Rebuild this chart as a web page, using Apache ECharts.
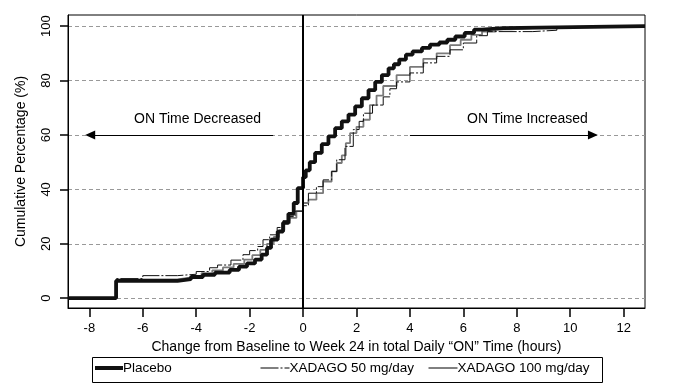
<!DOCTYPE html>
<html><head><meta charset="utf-8">
<script src="https://cdn.jsdelivr.net/npm/echarts@6/dist/echarts.min.js"></script>
<style>html,body{margin:0;padding:0;background:#fff}#c{width:694px;height:385px}</style>
</head><body><div id="c"></div>
<script>
const xTicks = [-8, -6, -4, -2, 0, 2, 4, 6, 8, 10, 12];
const yTicks = [0, 20, 40, 60, 80, 100];
const seriesNames = ['Placebo', 'XADAGO 50 mg/day', 'XADAGO 100 mg/day'];
// step CDF points: [change in ON time (h), cumulative %]
const placebo = [[-8.8,0],[-7,6.4],[-4.7,7.0],[-4.2,7.8],[-3.75,8.6],[-3.3,9.4],[-2.75,10.4],[-2.4,11.6],[-2.1,12.8],[-1.8,14.2],[-1.55,16],[-1.35,18.5],[-1.2,21.5],[-0.95,24.5],[-0.75,27.7],[-0.55,31],[-0.35,35],[-0.2,40.5],[0.0,44.5],[0.1,47],[0.25,50],[0.45,53.4],[0.7,56.6],[0.95,59.5],[1.2,62.5],[1.45,65],[1.7,67.5],[1.95,70.5],[2.2,73.5],[2.45,76.5],[2.7,79.5],[2.95,82],[3.2,84.5],[3.4,86],[3.6,87.7],[3.85,89.5],[4.1,90.7],[4.45,92],[4.75,93.2],[5.1,94],[5.4,95],[5.7,96.2],[6.05,97.5],[6.4,98.7],[6.7,99.3],[7.5,100],[12.8,100]];
const xadago50 = [[-8.8,0],[-7,7.2],[-6.0,8.3],[-4.7,8.8],[-4.0,9.8],[-3.5,11.2],[-3.2,12.2],[-2.7,14],[-2.25,16],[-2.0,17.5],[-1.7,19],[-1.5,21.5],[-1.25,23.3],[-0.97,26],[-0.75,28.5],[-0.5,30],[-0.3,32],[0.0,34],[0.2,38.6],[0.5,41],[0.75,43.5],[1.07,46.6],[1.26,50.9],[1.57,55.8],[1.88,62],[2.1,65],[2.26,68],[2.6,71],[3.0,74],[3.25,77],[3.5,79.5],[4.0,82.8],[4.5,86.5],[5.0,88.9],[5.5,91.3],[6.0,93.8],[6.5,96.5],[6.9,98],[8.6,98.5],[9.5,99.7],[10.2,100],[12.8,100]];
const xadago100 = [[-8.8,0],[-7,6.9],[-4.7,7.5],[-4.3,8.2],[-3.8,9.2],[-3.4,10.2],[-3.0,11.3],[-2.6,12.6],[-2.2,14.2],[-1.9,15.8],[-1.6,17.8],[-1.35,20],[-1.1,22.5],[-0.9,25],[-0.7,27.5],[-0.5,29.5],[-0.25,32],[0.0,35],[0.2,36.2],[0.5,38.6],[0.75,42.9],[1.07,46.6],[1.26,49.7],[1.45,52.5],[1.6,57],[1.76,60.7],[2.0,63],[2.26,65.6],[2.5,71],[2.75,74.5],[3.0,78],[3.5,82],[4.0,85],[4.5,88],[5.0,90],[5.5,93],[5.9,95],[6.3,96.8],[6.7,98],[7.2,98.8],[7.8,99.3],[8.6,99.6],[9.2,100],[12.8,100]];
// annotations (data space)
const arrowDecreased = [[-1.12, 60], [-7.97, 60]];
const arrowIncreased = [[4.0, 60], [10.85, 60]];
const textDecreased = ['ON Time Decreased', -3.95, 65.8];
const textIncreased = ['ON Time Increased', 8.4, 65.8];

const FONT = "'Liberation Sans', Arial, sans-serif";
const chart = echarts.init(document.getElementById('c'), null, {renderer: 'canvas'});
const hiddenSymbol = {color: 'rgba(0,0,0,0)', borderColor: 'rgba(0,0,0,0)', borderWidth: 0, opacity: 0};
const legendText = {fontSize: 13.5, color: '#000', fontFamily: FONT, padding: [0, 0, 0, -5]};
chart.setOption({
  animation: false,
  backgroundColor: '#fff',
  textStyle: {fontFamily: FONT, color: '#000'},
  grid: {left: 68, right: 49, top: 15, bottom: 77, show: true, borderColor: '#000', borderWidth: 1, backgroundColor: 'transparent'},
  xAxis: {
    type: 'value', min: -8.8, max: 12.8,
    name: 'Change from Baseline to Week 24 in total Daily \u201cON\u201d Time (hours)',
    nameLocation: 'middle', nameGap: 31,
    nameTextStyle: {fontSize: 14, color: '#000', fontFamily: FONT},
    axisLine: {show: true, onZero: false, lineStyle: {color: '#000', width: 1}},
    axisTick: {show: true, customValues: xTicks, length: 9, lineStyle: {color: '#000', width: 1.5}},
    axisLabel: {show: true, customValues: xTicks, margin: 14, fontSize: 13, color: '#000', fontFamily: FONT},
    splitLine: {show: false}
  },
  yAxis: {
    type: 'value', min: -3.6, max: 104.1,
    name: 'Cumulative Percentage (%)',
    nameLocation: 'middle', nameGap: 40, nameRotate: 90,
    nameTextStyle: {fontSize: 14, color: '#000', fontFamily: FONT},
    axisLine: {show: true, onZero: false, lineStyle: {color: '#000', width: 1}},
    axisTick: {show: true, customValues: yTicks, length: 8, lineStyle: {color: '#000', width: 1.5}},
    axisLabel: {show: true, customValues: yTicks, rotate: 90, margin: 15, fontSize: 13, color: '#000', fontFamily: FONT},
    splitLine: {show: true, lineStyle: {color: '#999', width: 1, type: [4, 3]}}
  },
  legend: [
    {data: [{name: seriesNames[0]}], left: 93, top: 361, padding: 0, itemWidth: 28, itemHeight: 13, itemStyle: hiddenSymbol, lineStyle: {color: '#111', width: 4}, textStyle: legendText, selectedMode: false},
    {data: [{name: seriesNames[1]}], left: 260, top: 361, padding: 0, itemWidth: 29, itemHeight: 13, itemStyle: hiddenSymbol, lineStyle: {color: '#000', width: 1}, textStyle: legendText, selectedMode: false},
    {data: [{name: seriesNames[2]}], left: 428, top: 361, padding: 0, itemWidth: 29, itemHeight: 13, itemStyle: hiddenSymbol, lineStyle: {color: '#000', width: 1, type: 'solid'}, textStyle: legendText, selectedMode: false}
  ],
  graphic: [{type: 'rect', left: 90, top: 355, shape: {width: 510, height: 25}, style: {fill: 'none', stroke: '#000', lineWidth: 1}, z: 0}],
  series: [
    {
      name: seriesNames[2], type: 'line', step: 'end', symbol: 'none', data: xadago100,
      lineStyle: {color: '#7a7a7a', width: 1.8}, itemStyle: {color: '#7a7a7a'}, z: 2,
      markLine: {
        silent: true, symbol: ['none', 'triangle'], symbolSize: [9, 10],
        lineStyle: {color: '#000', width: 1, type: 'solid'}, label: {show: false},
        data: [
          [{coord: arrowDecreased[0]}, {coord: arrowDecreased[1]}],
          [{coord: arrowIncreased[0]}, {coord: arrowIncreased[1]}]
        ]
      },
      markPoint: {
        silent: true, symbol: 'circle', symbolSize: 0,
        label: {show: true, position: 'inside', color: '#000', fontSize: 14, fontFamily: FONT, formatter: p => p.name},
        data: [
          {name: textDecreased[0], coord: [textDecreased[1], textDecreased[2]]},
          {name: textIncreased[0], coord: [textIncreased[1], textIncreased[2]]}
        ]
      }
    },
    {
      name: seriesNames[1], type: 'line', step: 'end', symbol: 'none', data: xadago50,
      lineStyle: {color: '#111', width: 1, type: [18, 2, 2, 2]}, itemStyle: {color: '#111'}, z: 3
    },
    {
      name: seriesNames[0], type: 'line', step: 'end', symbol: 'none', data: placebo,
      lineStyle: {color: '#111', width: 3.8}, itemStyle: {color: '#111'}, z: 4,
      markLine: {
        silent: true, symbol: 'none', label: {show: false},
        lineStyle: {color: '#000', width: 2, type: 'solid'},
        data: [{xAxis: 0}]
      }
    }
  ]
});
</script></body></html>
